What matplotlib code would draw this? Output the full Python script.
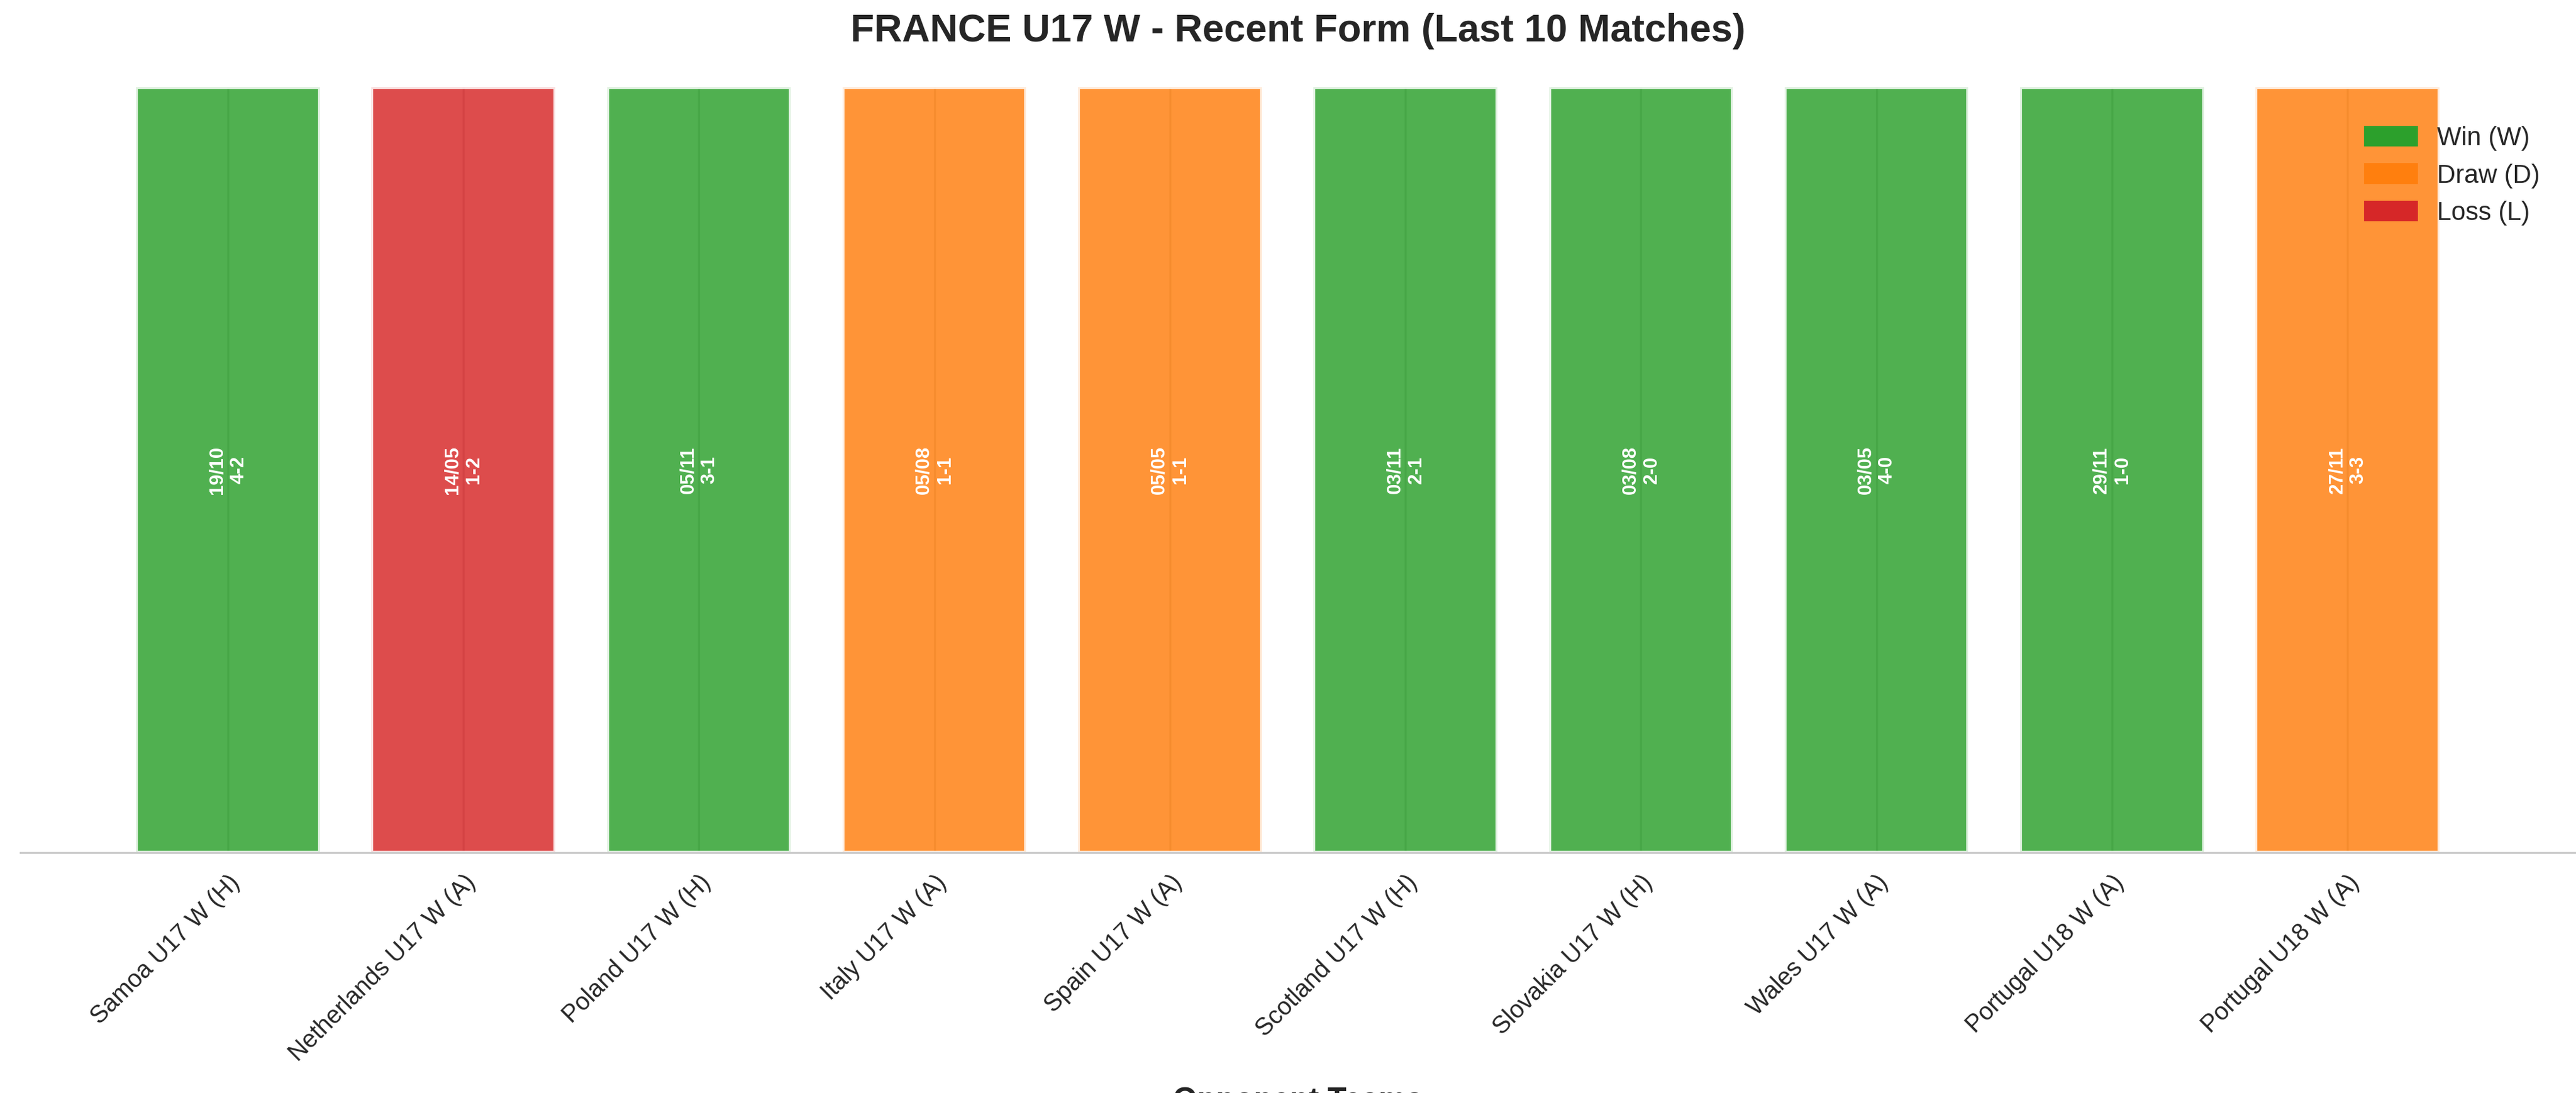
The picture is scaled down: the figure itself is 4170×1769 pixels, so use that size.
import matplotlib
matplotlib.use("Agg")
import matplotlib.pyplot as plt
import seaborn as sns
from matplotlib.patches import Patch

sns.set_style("whitegrid")
plt.rcParams['font.family'] = ['Arial', 'Liberation Sans', 'DejaVu Sans']

opponents = ["Samoa U17 W (H)", "Netherlands U17 W (A)", "Poland U17 W (H)", "Italy U17 W (A)",
             "Spain U17 W (A)", "Scotland U17 W (H)", "Slovakia U17 W (H)", "Wales U17 W (A)",
             "Portugal U18 W (A)", "Portugal U18 W (A)"]
dates = ["19/10", "14/05", "05/11", "05/08", "05/05", "03/11", "03/08", "03/05", "29/11", "27/11"]
scores = ["4-2", "1-2", "3-1", "1-1", "1-1", "2-1", "2-0", "4-0", "1-0", "3-3"]
results = ["W", "L", "W", "D", "D", "W", "W", "W", "W", "D"]
colors = {"W": "#2ca02c", "D": "#ff7f0e", "L": "#d62728"}

fig = plt.figure(figsize=(13.9, 5.897), dpi=300)
ax = fig.add_axes([0.008, 0.22, 0.992, 0.70])
x = list(range(len(opponents)))
ax.bar(x, [1]*len(x), width=0.78, color=[colors[r] for r in results], alpha=0.83,
       edgecolor="white", linewidth=1.5)
for i in x:
    ax.text(i, 0.5, f"{dates[i]}\n{scores[i]}", rotation=90, ha="center", va="center",
            color="white", fontweight="bold", fontsize=7.5)
ax.set_xticks(x)
ax.set_xticklabels(opponents, rotation=45, ha="right", rotation_mode="anchor", fontsize=9.5)
ax.set_yticks([])
ax.set_xlim(-0.88, 9.97)
ax.set_ylim(0, 1.0)
ax.grid(axis="y", visible=False)
for s in ["top", "right", "left"]:
    ax.spines[s].set_visible(False)
ax.spines["bottom"].set_color("#cccccc")
ax.set_xlabel("Opponent Teams", fontsize=12, fontweight="bold", labelpad=8)
ax.set_title("FRANCE U17 W - Recent Form (Last 10 Matches)", fontsize=15, fontweight="bold", pad=18)
handles = [Patch(color=colors["W"], label="Win (W)"), Patch(color=colors["D"], label="Draw (D)"),
           Patch(color=colors["L"], label="Loss (L)")]
ax.legend(handles=handles, loc="upper right", frameon=False, fontsize=10, bbox_to_anchor=(0.995, 0.98))
plt.savefig("out.png", dpi=300)
